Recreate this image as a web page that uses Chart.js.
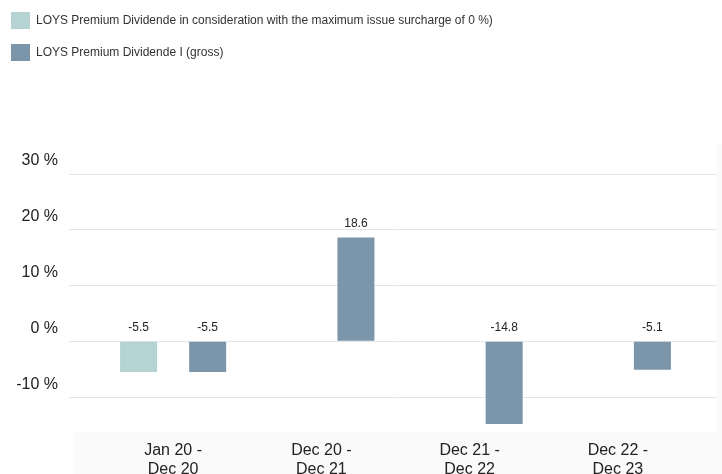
<!DOCTYPE html>
<html>
<head>
<meta charset="utf-8">
<script src="https://cdn.jsdelivr.net/npm/chart.js@4/dist/chart.umd.min.js"></script>
<style>
  html, body { margin: 0; padding: 0; background: #fff; }
  #wrap { position: relative; width: 722px; height: 474px; }
</style>
</head>
<body>
<div id="wrap"><canvas id="chart"></canvas></div>
<script>
const periods = [["Jan 20 -", "Dec 20"], ["Dec 20 -", "Dec 21"], ["Dec 21 -", "Dec 22"], ["Dec 22 -", "Dec 23"]];
const seriesNames = [
  "LOYS Premium Dividende in consideration with the maximum issue surcharge of 0 %)",
  "LOYS Premium Dividende I (gross)"
];
const surchargeValues = [-5.5, null, null, null];
const grossValues = [-5.5, 18.6, -14.8, -5.1];
const yTicks = [-10, 0, 10, 20, 30];

Chart.defaults.font.family = "'Liberation Sans', Arial, sans-serif";
Chart.defaults.color = "#222";

const gridColor = "#e5e5e5";

// push the plot down below the legend
const legendGap = {
  id: "legendGap",
  beforeInit(chart) {
    const fit = chart.legend.fit;
    chart.legend.fit = function () {
      fit.bind(this)();
      this.height += 103;
    };
  }
};

// faint grey band behind the category labels and on the right edge
const panel = {
  id: "panel",
  beforeDraw(chart) {
    const { ctx, chartArea, scales } = chart;
    ctx.save();
    ctx.fillStyle = "#fafafa";
    const left = chartArea.left - 25;
    const right = chartArea.right + 24;
    ctx.fillRect(left, scales.x.top + 2, right - left, chart.height - scales.x.top);
    ctx.fillRect(right, chartArea.top - 30, chart.width - right, chart.height);
    ctx.restore();
  }
};

// value labels above each bar (or above the zero line for negatives)
const barLabels = {
  id: "barLabels",
  afterDatasetsDraw(chart) {
    const ctx = chart.ctx;
    ctx.save();
    ctx.font = "12px 'Liberation Sans', Arial, sans-serif";
    ctx.fillStyle = "#222";
    ctx.textAlign = "center";
    ctx.textBaseline = "middle";
    chart.data.datasets.forEach((ds, i) => {
      chart.getDatasetMeta(i).data.forEach((bar, j) => {
        const v = ds.data[j];
        if (v === null || v === undefined) return;
        ctx.fillText(v.toFixed(1), bar.x, Math.min(bar.y, bar.base) - 14);
      });
    });
    ctx.restore();
  }
};

const yScale = {
  min: -16,
  max: 30,
  afterBuildTicks: (s) => { s.ticks = yTicks.map((v) => ({ value: v })); }
};

new Chart(document.getElementById("chart"), {
  type: "bar",
  data: {
    labels: periods,
    datasets: [
      {
        label: seriesNames[0],
        data: surchargeValues,
        backgroundColor: "#b5d3d3",
        categoryPercentage: 0.932,
        barPercentage: 0.536
      },
      {
        label: seriesNames[1],
        data: grossValues,
        backgroundColor: "#7b96ab",
        categoryPercentage: 0.932,
        barPercentage: 0.536
      }
    ]
  },
  options: {
    responsive: true,
    maintainAspectRatio: false,
    animation: false,
    layout: { padding: { top: -3, right: 6, bottom: 0, left: -4 } },
    plugins: {
      legend: {
        position: "top",
        align: "start",
        labels: {
          boxWidth: 19,
          boxHeight: 17,
          padding: 15,
          color: "#333",
          font: { size: 12 }
        }
      },
      tooltip: { enabled: false }
    },
    scales: {
      x: {
        grid: { display: false, drawTicks: false },
        border: { display: false },
        ticks: { padding: 10, font: { size: 16 }, color: "#222", maxRotation: 0 },
        afterFit: (s) => { s.height = 43.4; }
      },
      y: {
        ...yScale,
        position: "left",
        grid: { color: gridColor, tickLength: 30, drawTicks: true },
        border: { display: false },
        ticks: {
          padding: 11,
          labelOffset: -13,
          font: { size: 16 },
          color: "#222",
          callback: (v) => v + " %"
        },
        afterFit: (s) => { s.width = 103; }
      },
      y2: {
        ...yScale,
        position: "right",
        grid: { color: gridColor, tickLength: 24, drawOnChartArea: false },
        border: { display: false },
        ticks: { display: false },
        afterFit: (s) => { s.width = 24; }
      }
    }
  },
  plugins: [legendGap, panel, barLabels]
});
</script>
</body>
</html>
